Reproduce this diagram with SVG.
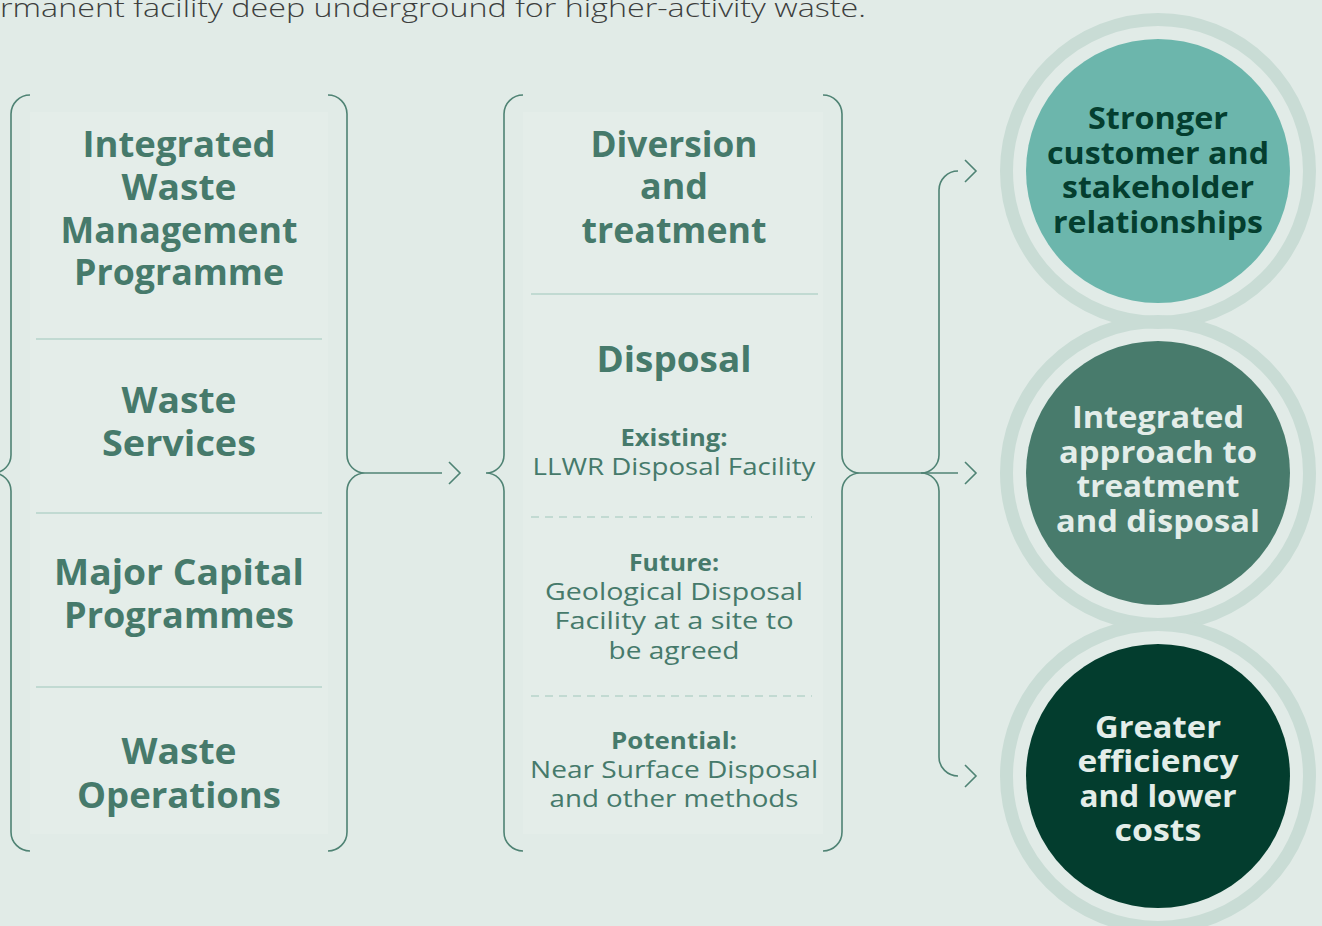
<svg xmlns="http://www.w3.org/2000/svg" width="1322" height="926" viewBox="0 0 1322 926">
  <style>
    .intro { font-family: "Open Sans", "Liberation Sans", sans-serif; font-weight: 300; font-size: 25px; fill: #3d3f3e; }
    .head { font-family: "Open Sans", "Liberation Sans", sans-serif; font-weight: 700; font-size: 35px; fill: #467a6b; text-anchor: middle; }
    .sub { font-family: "Open Sans", "Liberation Sans", sans-serif; font-weight: 700; font-size: 23px; fill: #467a6b; text-anchor: middle; }
    .body { font-family: "Open Sans", "Liberation Sans", sans-serif; font-weight: 400; font-size: 24px; fill: #467a6b; text-anchor: middle; }
    .circ { font-family: "Open Sans", "Liberation Sans", sans-serif; font-weight: 700; font-size: 30px; text-anchor: middle; }
    .dark { fill: #043e2f; }
    .light { fill: #e3ede9; }
    .brace { fill: none; stroke: #4f8374; stroke-width: 1.6; }
    .panel { fill: #e4ede9; }
    .rule { stroke: #b6d3ca; stroke-width: 1.5; }
    .dash { stroke: #b6d3ca; stroke-width: 1.5; stroke-dasharray: 8 6; }
    .ring { fill: none; stroke: #c9dcd5; stroke-width: 13; }
  </style>

  <rect width="1322" height="926" fill="#e1ebe7"/>

  <text class="intro" x="0" y="17" textLength="866" lengthAdjust="spacingAndGlyphs">rmanent facility deep underground for higher-activity waste.</text>

  <!-- Left column: programmes -->
  <g id="programmes">
    <rect class="panel" x="30" y="112" width="298" height="722"/>
    <path class="brace" d="M30,95 A19,19 0 0 0 11,114 V455 A18,18 0 0 1 -7,473 A18,18 0 0 1 11,491 V832 A19,19 0 0 0 30,851"/>
    <path class="brace" d="M328,95 A19,19 0 0 1 347,114 V455 A18,18 0 0 0 365,473 A18,18 0 0 0 347,491 V832 A19,19 0 0 1 328,851"/>
    <text class="head" x="179" y="157" textLength="193" lengthAdjust="spacingAndGlyphs">Integrated</text>
    <text class="head" x="179" y="200" textLength="115" lengthAdjust="spacingAndGlyphs">Waste</text>
    <text class="head" x="179" y="243" textLength="237" lengthAdjust="spacingAndGlyphs">Management</text>
    <text class="head" x="179" y="285" textLength="210" lengthAdjust="spacingAndGlyphs">Programme</text>
    <line class="rule" x1="36" y1="339" x2="322" y2="339"/>
    <text class="head" x="179" y="413" textLength="115" lengthAdjust="spacingAndGlyphs">Waste</text>
    <text class="head" x="179" y="456" textLength="154" lengthAdjust="spacingAndGlyphs">Services</text>
    <line class="rule" x1="36" y1="513" x2="322" y2="513"/>
    <text class="head" x="179" y="585" textLength="250" lengthAdjust="spacingAndGlyphs">Major Capital</text>
    <text class="head" x="179" y="628" textLength="230" lengthAdjust="spacingAndGlyphs">Programmes</text>
    <line class="rule" x1="36" y1="687" x2="322" y2="687"/>
    <text class="head" x="179" y="764" textLength="115" lengthAdjust="spacingAndGlyphs">Waste</text>
    <text class="head" x="179" y="808" textLength="204" lengthAdjust="spacingAndGlyphs">Operations</text>
  </g>

  <!-- Middle column: routes -->
  <g id="routes">
    <rect class="panel" x="523" y="112" width="300" height="722"/>
    <path class="brace" d="M523,95 A19,19 0 0 0 504,114 V455 A18,18 0 0 1 486,473 A18,18 0 0 1 504,491 V832 A19,19 0 0 0 523,851"/>
    <path class="brace" d="M823,95 A19,19 0 0 1 842,114 V455 A18,18 0 0 0 860,473 A18,18 0 0 0 842,491 V832 A19,19 0 0 1 823,851"/>
    <text class="head" x="674" y="157" textLength="167" lengthAdjust="spacingAndGlyphs">Diversion</text>
    <text class="head" x="674" y="199" textLength="68" lengthAdjust="spacingAndGlyphs">and</text>
    <text class="head" x="674" y="243" textLength="185" lengthAdjust="spacingAndGlyphs">treatment</text>
    <line class="rule" x1="531" y1="294" x2="818" y2="294"/>
    <text class="head" x="674" y="372" textLength="155" lengthAdjust="spacingAndGlyphs">Disposal</text>
    <text class="sub" x="674" y="446" textLength="107" lengthAdjust="spacingAndGlyphs">Existing:</text>
    <text class="body" x="674" y="475" textLength="283" lengthAdjust="spacingAndGlyphs">LLWR Disposal Facility</text>
    <line class="dash" x1="531" y1="517" x2="812" y2="517"/>
    <text class="sub" x="674" y="571" textLength="90" lengthAdjust="spacingAndGlyphs">Future:</text>
    <text class="body" x="674" y="600" textLength="258" lengthAdjust="spacingAndGlyphs">Geological Disposal</text>
    <text class="body" x="674" y="629" textLength="239" lengthAdjust="spacingAndGlyphs">Facility at a site to</text>
    <text class="body" x="674" y="659" textLength="131" lengthAdjust="spacingAndGlyphs">be agreed</text>
    <line class="dash" x1="531" y1="696" x2="812" y2="696"/>
    <text class="sub" x="674" y="749" textLength="126" lengthAdjust="spacingAndGlyphs">Potential:</text>
    <text class="body" x="674" y="778" textLength="288" lengthAdjust="spacingAndGlyphs">Near Surface Disposal</text>
    <text class="body" x="674" y="807" textLength="249" lengthAdjust="spacingAndGlyphs">and other methods</text>
  </g>

  <!-- Links between columns and outcomes -->
  <g id="connectors" class="brace">
    <path d="M365,473 H442"/>
    <path d="M449,462 L460,473 L449,484"/>
    <path d="M860,473 H958"/>
    <path d="M958,171 A19,19 0 0 0 939,190 V455 A18,18 0 0 1 921,473 A18,18 0 0 1 939,491 V757 A19,19 0 0 0 958,776"/>
    <path d="M965,160 L976,171 L965,182"/>
    <path d="M965,462 L976,473 L965,484"/>
    <path d="M965,765 L976,776 L965,787"/>
  </g>

  <!-- Outcome rings -->
  <g id="rings">
    <circle class="ring" cx="1158" cy="171" r="151.5"/>
    <circle class="ring" cx="1158" cy="473" r="151.5"/>
    <circle class="ring" cx="1158" cy="776" r="151.5"/>
  </g>

  <g id="outcome-relationships">
    <circle cx="1158" cy="171" r="132" fill="#6cb6ac"/>
    <text class="circ dark" x="1158" y="129" textLength="140" lengthAdjust="spacingAndGlyphs">Stronger</text>
    <text class="circ dark" x="1158" y="164" textLength="222" lengthAdjust="spacingAndGlyphs">customer and</text>
    <text class="circ dark" x="1158" y="198" textLength="192" lengthAdjust="spacingAndGlyphs">stakeholder</text>
    <text class="circ dark" x="1158" y="233" textLength="210" lengthAdjust="spacingAndGlyphs">relationships</text>
  </g>

  <g id="outcome-integrated">
    <circle cx="1158" cy="473" r="132" fill="#487b6c"/>
    <text class="circ light" x="1158" y="428" textLength="172" lengthAdjust="spacingAndGlyphs">Integrated</text>
    <text class="circ light" x="1158" y="463" textLength="198" lengthAdjust="spacingAndGlyphs">approach to</text>
    <text class="circ light" x="1158" y="497" textLength="163" lengthAdjust="spacingAndGlyphs">treatment</text>
    <text class="circ light" x="1158" y="532" textLength="204" lengthAdjust="spacingAndGlyphs">and disposal</text>
  </g>

  <g id="outcome-efficiency">
    <circle cx="1158" cy="776" r="132" fill="#033d2e"/>
    <text class="circ light" x="1158" y="738" textLength="126" lengthAdjust="spacingAndGlyphs">Greater</text>
    <text class="circ light" x="1158" y="772" textLength="161" lengthAdjust="spacingAndGlyphs">efficiency</text>
    <text class="circ light" x="1158" y="807" textLength="157" lengthAdjust="spacingAndGlyphs">and lower</text>
    <text class="circ light" x="1158" y="841" textLength="87" lengthAdjust="spacingAndGlyphs">costs</text>
  </g>
</svg>
